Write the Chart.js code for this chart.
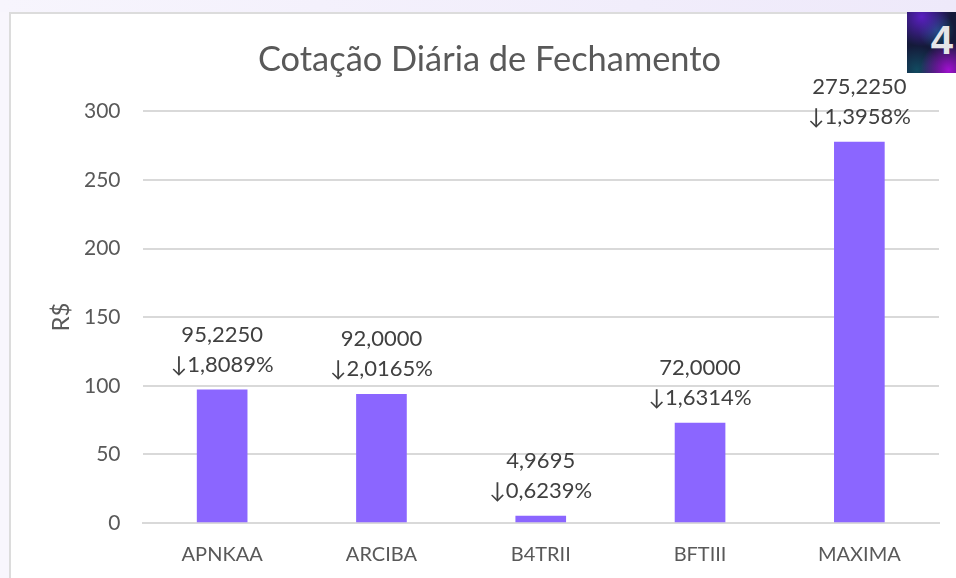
<!DOCTYPE html>
<html>
<head>
<meta charset="utf-8">
<title>Cotação Diária de Fechamento</title>
<script src="https://cdn.jsdelivr.net/npm/chart.js@4"></script>
<style>
    html, body { margin: 0; padding: 0; }
    body { width: 956px; height: 578px; overflow: hidden; position: relative; background: #f8f6fd; }
    #faixa { position: absolute; left: 0; top: 0; width: 956px; height: 12px; background: linear-gradient(90deg, #f7f5fd, #eee9fa); }
    #painel { position: absolute; left: 9px; top: 12px; width: 947px; height: 566px; background: #fff; border-left: 2px solid #dcdcdc; border-top: 2px solid #dcdcdc; box-sizing: border-box; }
    #grafico { position: absolute; left: 0; top: 0; }
    #logo {
        position: absolute; left: 907px; top: 12px; width: 49px; height: 61px; overflow: hidden;
        background:
            radial-gradient(circle at 85% 95%, #a010d0 0, transparent 40%),
            radial-gradient(circle at 30% 8%, #5a1fc0 0, transparent 45%),
            radial-gradient(circle at 60% 30%, #125a70 0, transparent 35%),
            radial-gradient(circle at 20% 95%, #124a60 0, transparent 35%),
            #141a3a;
        color: #e4e4e8; font: bold 40px "Liberation Sans", sans-serif; line-height: 56px; text-align: right;
    }
    #logo span { position: relative; right: 3px; }
</style>
</head>
<body>
<div id="faixa"></div>
<div id="painel"></div>
<canvas id="grafico" width="956" height="578"></canvas>
<div id="logo"><span>4</span></div>
<script>
const categorias = ['APNKAA', 'ARCIBA', 'B4TRII', 'BFTIII', 'MAXIMA'];
// altura das barras (um pouco diferente do rótulo)
const valores = [97, 93.7, 5, 72.8, 277.5];
const cotacoes = ['95,2250', '92,0000', '4,9695', '72,0000', '275,2250'];
const variacoes = ['↓1,8089%', '↓2,0165%', '↓0,6239%', '↓1,6314%', '↓1,3958%'];
const ticksY = [0, 50, 100, 150, 200, 250, 300];

const fonte = 'Lato, "Open Sans", sans-serif';

// Rótulos de duas linhas acima de cada barra
const rotulosBarras = {
    id: 'rotulosBarras',
    afterDatasetsDraw(chart) {
        const ctx = chart.ctx;
        const meta = chart.getDatasetMeta(0);
        ctx.save();
        ctx.fillStyle = '#404040';
        ctx.font = '22px ' + fonte;
        ctx.textAlign = 'center';
        ctx.textBaseline = 'middle';
        meta.data.forEach((barra, i) => {
            ctx.fillText(cotacoes[i], barra.x, barra.y - 55);
            ctx.fillText(variacoes[i], barra.x, barra.y - 25);
        });
        ctx.restore();
    }
};

new Chart(document.getElementById('grafico').getContext('2d'), {
    type: 'bar',
    data: {
        labels: categorias,
        datasets: [{
            data: valores,
            backgroundColor: '#8b66ff',
            barThickness: 50,
        }],
    },
    options: {
        responsive: false,
        animation: false,
        layout: { padding: { top: 27, right: 17, bottom: 0, left: 40 } },
        scales: {
            y: {
                min: 0,
                max: 300,
                afterBuildTicks(scale) { scale.ticks = ticksY.map(v => ({ value: v })); },
                afterFit(scale) { scale.width = 102.5; },
                border: { display: false },
                grid: { color: '#d9d9d9', lineWidth: 2, drawTicks: false },
                ticks: { color: '#595959', font: { family: fonte, size: 21 }, padding: 22 },
                title: {
                    display: true,
                    text: 'R$',
                    color: '#595959',
                    font: { family: fonte, size: 24 },
                    padding: { top: 7, bottom: 0 },
                },
            },
            x: {
                afterFit(scale) { scale.height = 55; },
                border: { display: true, color: '#d9d9d9', width: 2 },
                grid: { display: false, drawTicks: false },
                ticks: { color: '#595959', font: { family: fonte, size: 20 }, padding: 20, maxRotation: 0 },
            },
        },
        plugins: {
            legend: { display: false },
            tooltip: { enabled: false },
            title: {
                display: true,
                text: 'Cotação Diária de Fechamento',
                color: '#595959',
                font: { family: fonte, size: 34.4, weight: 'normal' },
                padding: { top: 12, bottom: 31 },
            },
        },
    },
    plugins: [rotulosBarras],
});
</script>
</body>
</html>
